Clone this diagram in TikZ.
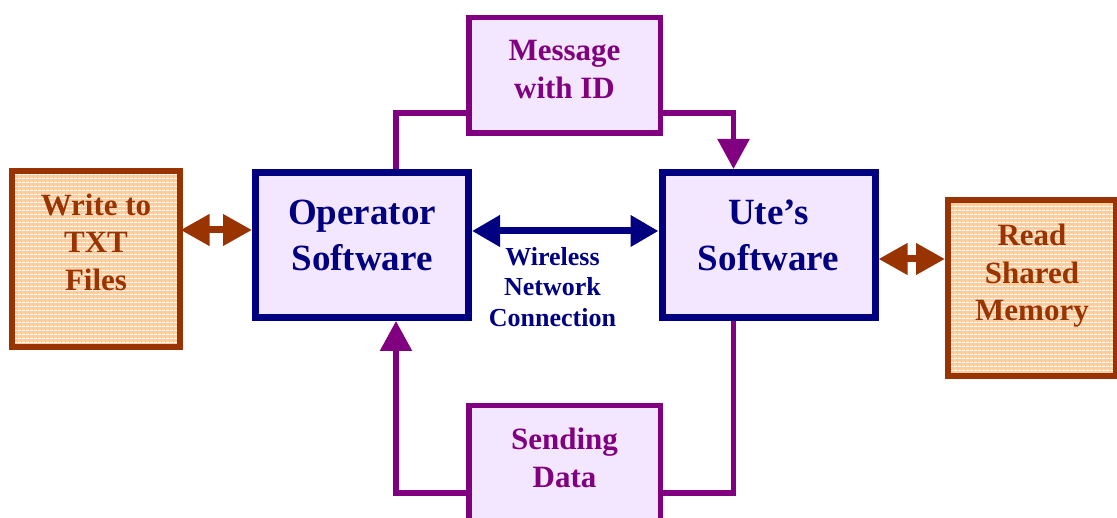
\documentclass[tikz,border=0pt]{standalone}
\usepackage{fontspec}
\setmainfont{Liberation Serif}
\usetikzlibrary{arrows.meta,patterns.meta}

\definecolor{navyblue}{RGB}{0,0,128}
\definecolor{plum}{RGB}{128,0,128}
\definecolor{rust}{RGB}{153,51,0}
\definecolor{peach}{RGB}{255,204,153}
\definecolor{boxfill}{RGB}{243,231,255}

\tikzset{
  swbox/.style={draw=navyblue, line width=7pt, fill=boxfill, text=navyblue,
    minimum width=213pt, minimum height=145pt, align=center, text depth=20pt,
    font=\fontsize{37}{46}\selectfont\bfseries},
  infobox/.style={draw=plum, line width=5.5pt, fill=boxfill, text=plum,
    minimum width=191.5pt, minimum height=115.5pt, align=center, text depth=12pt,
    font=\fontsize{31}{38}\selectfont\bfseries},
  filebox/.style={draw=rust, line width=6pt, preaction={fill=peach},
    pattern={Lines[angle=0, distance=4pt, line width=1pt]}, pattern color=white,
    text=rust, minimum width=168pt, minimum height=176pt, align=center,
    font=\fontsize{31}{37.5}\selectfont\bfseries},
  link/.style={navyblue, line width=7pt,
    {Triangle[length=28pt, width=30pt]}-{Triangle[length=28pt, width=30pt]}},
  access/.style={rust, line width=7pt,
    {Triangle[length=29pt, width=30pt]}-{Triangle[length=29pt, width=30pt]}},
  flow/.style={plum, line width=5.5pt},
  tip/.style={-{Triangle[length=30pt, width=31pt]}}
}

\begin{document}
\begin{tikzpicture}[x=1pt, y=1pt]
  \useasboundingbox (0,0) rectangle (1117,518);

  % the two programs
  \node[swbox] (op) at (362,273) {Operator\\Software};
  \node[swbox] (ute) at (768.5,273) {Ute’s\\Software};

  % what goes between them
  \node[infobox] (msg) at (564.5,442.5) {Message\\with ID};
  \node[infobox] (send) at (564.5,54.5) {Sending\\Data};

  % files on either side
  \node[filebox, text depth=34pt] (txt) at (96,259) {Write to\\TXT\\Files};
  \node[filebox, text depth=31pt] (mem) at (1032,230) {Read\\Shared\\Memory};

  \draw[link] ([yshift=14pt]op.east) -- ([yshift=14pt]ute.west);
  \node[navyblue, align=center, font=\fontsize{26}{30.5}\selectfont\bfseries]
    (wlan) at (552.5,231) {Wireless\\Network\\Connection};

  \draw[access] ([yshift=15pt]op.west) -- ([yshift=15pt]op.west -| txt.east);
  \draw[access] ([yshift=-14pt]ute.east) -- ([yshift=-14pt]ute.east -| mem.west);

  \draw[flow] ([yshift=-37.5pt]msg.west) -| ([xshift=34pt]op.north);
  \draw[flow, tip] ([yshift=-37.5pt]msg.east) -| ([xshift=-35pt]ute.north);
  \draw[flow, tip] ([yshift=-29.5pt]send.west) -| ([xshift=34pt]op.south);
  \draw[flow] ([xshift=-35pt]ute.south) |- ([yshift=-29.5pt]send.east);
\end{tikzpicture}
\end{document}
